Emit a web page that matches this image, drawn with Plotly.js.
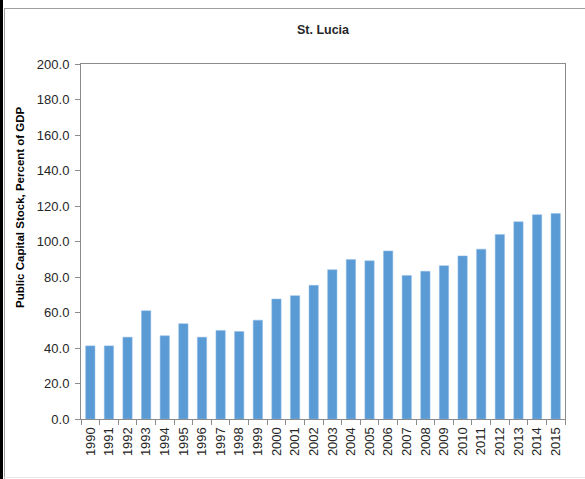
<!DOCTYPE html>
<html>
<head>
<meta charset="utf-8">
<script src="https://cdn.plot.ly/plotly-3.0.1.min.js"></script>
<style>
  html, body { margin: 0; padding: 0; background: #fff; }
  #wrap { position: relative; width: 585px; height: 479px; overflow: hidden; }
  #chart { position: absolute; left: 0; top: 0; width: 585px; height: 479px; }
  .ln { position: absolute; pointer-events: none; }
</style>
</head>
<body>
<div id="wrap">
  <div id="chart"></div>
  <div class="ln" style="left:0;top:0;width:3px;height:479px;background:#000;"></div>
  <div class="ln" style="left:4px;top:8px;width:1px;height:471px;background:#a0a0a0;"></div>
  <div class="ln" style="left:4px;top:8px;width:581px;height:1px;background:#a0a0a0;"></div>
  <div class="ln" style="left:4px;top:477px;width:581px;height:1px;background:#e8e8e8;"></div>
</div>
<script>
const years = ["1990","1991","1992","1993","1994","1995","1996","1997","1998","1999",
  "2000","2001","2002","2003","2004","2005","2006","2007","2008","2009",
  "2010","2011","2012","2013","2014","2015"];
const capitalStock = [41.2, 41.2, 46.1, 61.0, 46.9, 53.7, 46.1, 49.9, 49.3, 55.7,
  67.6, 69.5, 75.3, 84.1, 89.8, 89.1, 94.7, 80.8, 83.2, 86.4,
  91.9, 95.7, 103.9, 111.1, 115.1, 115.8];
const yTicks = [0, 20, 40, 60, 80, 100, 120, 140, 160, 180, 200];
const yTickText = yTicks.map(v => v.toFixed(1));

const trace = {
  type: "bar",
  x: years,
  y: capitalStock,
  marker: { color: "#5b9bd5", line: { color: "#8fbbe6", width: 0.5 } },
  hoverinfo: "x+y"
};

const layout = {
  width: 585, height: 479,
  margin: { l: 81, r: 20, t: 64, b: 60 },
  paper_bgcolor: "rgba(0,0,0,0)",
  plot_bgcolor: "#fff",
  bargap: 0.5,
  showlegend: false,
  font: { family: "Liberation Sans, Arial, sans-serif", size: 13, color: "#404040" },
  title: {
    text: "<b>St. Lucia</b>",
    font: { family: "Liberation Sans, Arial, sans-serif", size: 12.5, color: "#262626" },
    x: 0.5, xref: "paper", xanchor: "center",
    y: 1 - 30 / 479, yref: "container", yanchor: "middle"
  },
  xaxis: {
    type: "category",
    tickangle: -90,
    showline: true, linecolor: "#8c8c8c", linewidth: 1, mirror: true,
    ticks: "outside", tickson: "boundaries", ticklen: 5, tickcolor: "#8c8c8c",
    ticklabelstandoff: 2,
    showgrid: false, zeroline: false,
    tickfont: { size: 13, color: "#262626" }
  },
  yaxis: {
    range: [0, 200],
    tickvals: yTicks, ticktext: yTickText,
    showline: true, linecolor: "#8c8c8c", linewidth: 1, mirror: true,
    ticks: "outside", ticklen: 5, tickcolor: "#8c8c8c",
    ticklabelstandoff: 3,
    showgrid: false, zeroline: false,
    tickfont: { size: 13, color: "#262626" }
  },
  annotations: [{
    text: "<b>Public Capital Stock, Percent of GDP</b>",
    xref: "paper", yref: "paper",
    x: (20 - 81) / 484, y: (419 - 207) / 355,
    xanchor: "center", yanchor: "middle",
    textangle: -90, showarrow: false,
    font: { family: "Liberation Sans, Arial, sans-serif", size: 11.5, color: "#000" }
  }]
};

Plotly.newPlot("chart", [trace], layout, { displayModeBar: false, staticPlot: true });
</script>
</body>
</html>
